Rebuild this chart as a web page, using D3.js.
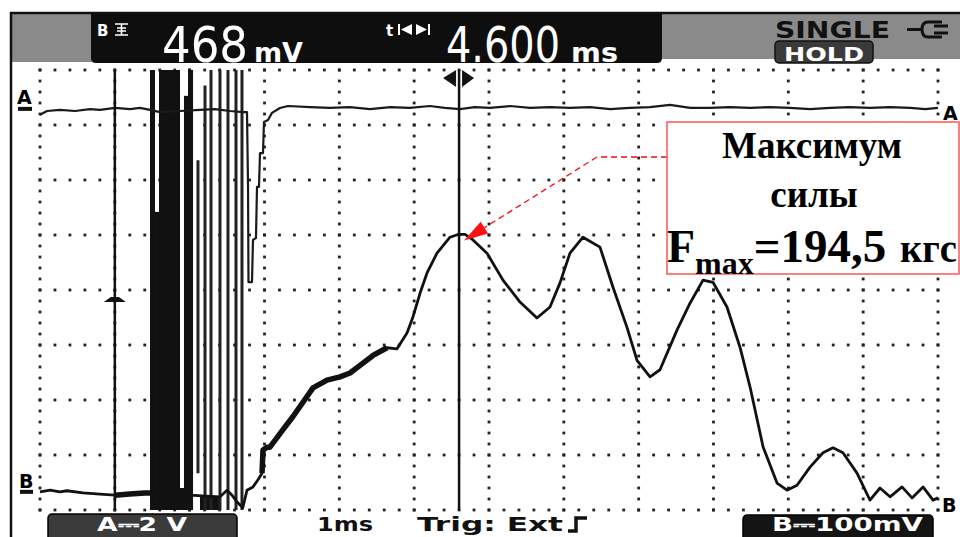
<!DOCTYPE html>
<html><head><meta charset="utf-8">
<script src="https://cdn.jsdelivr.net/npm/d3@7"></script>
<style>html,body{margin:0;padding:0;background:#fff;overflow:hidden}</style>
</head><body>
<svg id="c" width="960" height="537"></svg>
<script>
// ---------------- data ----------------
const timeDomain = [0, 12];          // ms (1 ms/div, 12 div)
const bDomain = [-33, 767];          // mV (100 mV/div, 8 div)
const aDomain = [-14.55, 1.45];      // V  (2 V/div, 8 div)
const cursorTimes = [1.0, 5.6];      // ms
const peakPoint = [5.6, 468];        // ms, mV

const readoutB = "468", unitB = "mV";
const readoutT = "4.600", unitT = "ms";
const modeLabel = "SINGLE", holdLabel = "HOLD";
const scaleALabel = "A⎓2 V", scaleBLabel = "B⎓100mV";
const timebaseLabel = "1ms", trigLabel = "Trig: Ext";
const noteLines = ["Максимум", "силы"];
const fmaxSymbol = "F", fmaxSub = "max", fmaxValue = "=194,5", fmaxUnit = "кгс";

// channel B trace [ms, mV]
const bTrace = [
 [0.00,0],[0.134,3],[0.267,0],[0.36,2],[0.575,-2],[0.80,-4],[1.00,-6],[1.20,-4],[1.40,-2],[1.47,-2],
 [2.405,-9],[2.50,3],[2.566,-6],[2.63,-18],[2.71,-29],[2.766,3],[2.846,9],[2.913,22],[2.967,34],
 [2.98,76],[3.033,81],[3.07,81],[3.247,113],[3.381,137],[3.514,163],[3.648,189],[3.835,203],
 [4.009,209],[4.143,216],[4.316,234],[4.45,248],[4.637,262],[4.771,260],[4.904,289],[4.984,318],
 [5.078,361],[5.172,398],[5.305,434],[5.479,463],[5.586,468],[5.68,468],[5.786,458],[5.973,434],
 [6.187,385],[6.414,345],[6.641,316],[6.815,336],[6.949,380],[7.082,434],[7.256,463],[7.483,445],
 [7.657,372],[7.844,299],[7.978,239],[8.152,209],[8.285,222],[8.512,294],[8.686,343],[8.86,385],
 [8.993,381],[9.18,336],[9.354,263],[9.488,191],[9.662,82],[9.849,16],[9.982,3],[10.116,12],
 [10.29,45],[10.463,71],[10.597,80],[10.73,71],[10.918,34],[11.091,-15],[11.225,7],[11.359,-9],
 [11.519,9],[11.653,-11],[11.80,9],[11.933,-15],[12.0,-11]
];
// thicker (noisy) portions of trace B [ms from, ms to]
const bNoisySpans = [[0.87,1.47],[2.95,4.72]];

// channel A trace [ms, V]
const aTrace = [
 [0,-0.18],[0.094,-0.04],[0.267,0],[0.468,-0.04],[0.668,0.03],[0.802,0],[1.002,0.07],[1.203,0.03],
 [1.336,0.07],[1.47,0],[1.604,-0.08],[1.871,-0.04],[2.138,0],[2.339,0.03],[2.539,-0.04],[2.713,-0.08],
 [2.766,-0.08],[2.78,-2.8],[2.786,-6.26],[2.833,-6.26],[2.846,-4.73],[2.886,-4.66],[2.90,-2.8],
 [2.926,-2.8],[2.94,-1.57],[2.98,-1.57],[2.993,-0.44],[3.047,-0.37],[3.10,-0.11],[3.207,0.07],
 [3.314,0.14],[3.61,0.1],[3.875,0.07],[4.14,0.1],[4.41,0.03],[4.68,0.1],[4.94,0.07],[5.21,0.14],
 [5.41,0.07],[5.61,0.03],[5.81,0.1],[6.01,0.07],[6.28,0.14],[6.55,0.07],[6.815,0.1],[7.08,0.07],
 [7.35,0.1],[7.62,0.03],[7.88,0.07],[8.15,0.1],[8.42,0.18],[8.69,0.07],[8.95,0.07],[9.22,0.1],
 [9.49,0.07],[9.75,0.1],[10.02,0.07],[10.29,0.03],[10.56,0.07],[10.82,0.1],[11.09,0.07],[11.36,0.1],
 [11.63,0.07],[11.83,0.03],[12.0,0.07]
];

// saturated burst: filled blocks [t0 ms, t1 ms, low mV, high mV]
const burstBlocks = [
 [1.470,1.537,-33,767],[1.537,1.590,-33,509],[1.590,1.871,-33,767],[1.871,1.924,-33,7],
 [1.924,1.978,-33,720],[1.978,2.045,-33,767],[2.138,2.405,-33,-9]
];
// burst spikes [t ms, low mV, high mV]
const burstSpikes = [
 [2.111,34,603],[2.205,-33,739],[2.285,-33,767],[2.405,-33,767],[2.512,-33,767],[2.619,-33,767],[2.699,-33,767]
];

// ---------------- drawing ----------------
const svg = d3.select('#c');
const L = 40, R = 938, T = 70, B = 510;
const x = d3.scaleLinear().domain(timeDomain).range([L, R]);
const yB = d3.scaleLinear().domain(bDomain).range([B, T]);
const yA = d3.scaleLinear().domain(aDomain).range([B, T]);

svg.append('rect').attr('width',960).attr('height',537).attr('fill','#fff');

// grid (dotted, 5 dots per division)
const g = svg.append('g').attr('fill','#222');
const majorT = d3.range(timeDomain[0], timeDomain[1] + 0.001, 1);
const majorB = d3.range(bDomain[0], bDomain[1] + 0.001, 100);
const minorT = d3.range(timeDomain[0], timeDomain[1] + 0.001, 0.2);
const minorB = d3.range(bDomain[0], bDomain[1] + 0.001, 20);
const dots = [];
majorB.forEach(v => minorT.forEach(t => dots.push([x(t), yB(v)])));
majorT.forEach(t => minorB.forEach(v => dots.push([x(t), yB(v)])));
g.selectAll('rect').data(dots).join('rect')
 .attr('x', d => d[0]-1.4).attr('y', d => d[1]-1.4).attr('width',2.8).attr('height',2.8);

// burst
svg.append('g').attr('fill','#111').selectAll('rect').data(burstBlocks).join('rect')
 .attr('x', d => x(d[0])).attr('width', d => x(d[1]) - x(d[0]))
 .attr('y', d => yB(d[3])).attr('height', d => yB(d[2]) - yB(d[3]));
svg.append('g').attr('stroke','#222').attr('stroke-width',3).selectAll('line').data(burstSpikes).join('line')
 .attr('x1', d => x(d[0])).attr('x2', d => x(d[0]))
 .attr('y1', d => yB(d[2])).attr('y2', d => yB(d[1]));

// traces
const lineA = d3.line().x(d => x(d[0])).y(d => yA(d[1]));
const lineB = d3.line().x(d => x(d[0])).y(d => yB(d[1]));
svg.append('path').datum(aTrace).attr('d', lineA).attr('fill','none')
 .attr('stroke','#1a1a1a').attr('stroke-width',2.2).attr('stroke-linejoin','round');
svg.append('path').datum(bTrace).attr('d', lineB).attr('fill','none')
 .attr('stroke','#111').attr('stroke-width',2.8).attr('stroke-linejoin','round');
bNoisySpans.forEach(s => {
  svg.append('path').datum(bTrace.filter(d => d[0] >= s[0] && d[0] <= s[1])).attr('d', lineB)
   .attr('fill','none').attr('stroke','#111').attr('stroke-width',5.5).attr('stroke-linejoin','round');
});

// cursors
svg.append('g').selectAll('line').data(cursorTimes).join('line')
 .attr('x1', d => x(d)).attr('x2', d => x(d)).attr('y1', T).attr('y2', B)
 .attr('stroke','#111').attr('stroke-width',2.5);
const c1 = x(cursorTimes[0]), c2 = x(cursorTimes[1]);
svg.append('path').attr('d', `M${c1-11},${302} L${c1+11},${302} L${c1+4},${297} L${c1-4},${297} Z`).attr('fill','#111');
svg.append('path').attr('d', `M${c2-16},78 L${c2-3},70 L${c2-3},87 Z M${c2+15},78 L${c2+3},70 L${c2+3},87 Z`).attr('fill','#111');

// channel markers
const lab = {'font-family':'DejaVu Sans, sans-serif','font-weight':'bold','font-size':19};
function txt(sel, s, ax, ay, attrs) {
  const t = sel.append('text').attr('x',ax).attr('y',ay).text(s);
  Object.entries(attrs||{}).forEach(([k,v]) => t.attr(k,v));
  return t;
}
txt(svg,'A',17,104,lab);
svg.append('rect').attr('x',18).attr('y',yA(0)-3).attr('width',14).attr('height',4).attr('fill','#111');
txt(svg,'B',19,488,lab);
svg.append('rect').attr('x',20).attr('y',yB(0)-2).attr('width',13).attr('height',4).attr('fill','#111');
txt(svg,'A',943,120,lab);
txt(svg,'B',942,512,lab);

// annotation
const peakX = x(peakPoint[0]), peakY = yB(peakPoint[1]);
const tip = [peakX + 5, peakY + 6];
const knee = [597, 157];
const ux = knee[0]-tip[0], uy = knee[1]-tip[1], ul = Math.hypot(ux,uy);
const u = [ux/ul, uy/ul], n = [-u[1], u[0]];
const base = [tip[0]+u[0]*24, tip[1]+u[1]*24];
svg.append('path').attr('d', `M667,${knee[1]} L${knee[0]},${knee[1]} L${base[0]},${base[1]}`)
 .attr('fill','none').attr('stroke','#f01010').attr('stroke-width',1.3).attr('stroke-dasharray','6,4');
svg.append('path').attr('d', `M${tip[0]},${tip[1]} L${base[0]+n[0]*7},${base[1]+n[1]*7} L${base[0]-n[0]*7},${base[1]-n[1]*7} Z`)
 .attr('fill','#ff1010');
svg.append('rect').attr('x',667).attr('y',122).attr('width',292).attr('height',152)
 .attr('fill','#fff').attr('stroke','#ff5555').attr('stroke-width',1.5);
const serif = {'font-family':'Liberation Serif, Times New Roman, serif','font-weight':'bold','fill':'#000'};
txt(svg, noteLines[0], 812, 158, Object.assign({'font-size':37,'text-anchor':'middle'}, serif));
txt(svg, noteLines[1], 814, 207, Object.assign({'font-size':37,'text-anchor':'middle'}, serif));
const f = svg.append('text').attr('x',667).attr('y',262);
Object.entries(serif).forEach(([k,v]) => f.attr(k,v));
f.append('tspan').attr('font-size',46).text(fmaxSymbol);
f.append('tspan').attr('font-size',32).attr('dy',12).text(fmaxSub);
f.append('tspan').attr('font-size',47).attr('dy',-12).text(fmaxValue);
txt(svg, fmaxUnit, 900, 262, Object.assign({'font-size':40, textLength:57, lengthAdjust:'spacingAndGlyphs'}, serif));

// header
svg.append('rect').attr('x',12).attr('y',14).attr('width',80).attr('height',48).attr('fill','#8a8a8a');
svg.append('rect').attr('x',662).attr('y',14).attr('width',298).attr('height',45).attr('fill','#8a8a8a');
svg.append('path').attr('d','M91,14 H662 V58 Q662,63 657,63 H96 Q91,63 91,58 Z').attr('fill','#0e0e0e');
const hw = {'font-family':'DejaVu Sans, sans-serif','font-weight':'bold','fill':'#fff','font-size':15};
txt(svg,'B',97,36,hw);
svg.append('path').attr('d','M115,24 H128 M115,35 H128 M121.5,24 V35 M117,28 H126 M117,31 H126')
 .attr('stroke','#fff').attr('stroke-width',1.6).attr('fill','none');
txt(svg,'t',386,36,hw);
svg.append('path').attr('d','M399,24 V35 M429,24 V35').attr('stroke','#fff').attr('stroke-width',2);
svg.append('path').attr('d','M401,29.5 L412,24 L412,35 Z M427,29.5 L416,24 L416,35 Z').attr('fill','#fff');
const big = {'font-family':'DejaVu Sans Condensed, DejaVu Sans, sans-serif','fill':'#fff','font-size':46,'lengthAdjust':'spacingAndGlyphs'};
txt(svg, readoutB, 0, 0, Object.assign({textLength:86, transform:'translate(162,62) scale(1,1.1)'}, big));
txt(svg, readoutT, 0, 0, Object.assign({textLength:114, transform:'translate(446,62) scale(1,1.1)'}, big));
const unit = {'font-family':'DejaVu Sans, sans-serif','font-weight':'bold','fill':'#fff','font-size':27,'lengthAdjust':'spacingAndGlyphs'};
txt(svg, unitB, 254, 62, Object.assign({textLength:49}, unit));
txt(svg, unitT, 571, 62, Object.assign({textLength:47}, unit));
txt(svg, modeLabel, 775, 38, {'font-family':'DejaVu Sans, sans-serif','font-weight':'bold','fill':'#111','font-size':23,textLength:115,lengthAdjust:'spacingAndGlyphs'});
svg.append('path').attr('d','M907,29.5 H922 M942,22 H928 Q922,22 922,29.5 Q922,37 928,37 H942 M934,26 H948 M934,33 H948')
 .attr('stroke','#111').attr('stroke-width',3).attr('fill','none');
svg.append('rect').attr('x',775).attr('y',41).attr('width',98).attr('height',22).attr('rx',4)
 .attr('fill','#3a3a3a').attr('stroke','#111').attr('stroke-width',1.5);
txt(svg, holdLabel, 784, 61, {'font-family':'DejaVu Sans, sans-serif','font-weight':'bold','fill':'#fff','font-size':20,textLength:80,lengthAdjust:'spacingAndGlyphs'});

// bottom labels
svg.append('rect').attr('x',48).attr('y',514).attr('width',189).attr('height',30).attr('rx',4)
 .attr('fill','#3b3b3b').attr('stroke','#000').attr('stroke-width',1.5);
svg.append('rect').attr('x',743).attr('y',515).attr('width',190).attr('height',30).attr('rx',4)
 .attr('fill','#141414').attr('stroke','#000').attr('stroke-width',1.5);
const bot = {'font-family':'DejaVu Sans, sans-serif','font-weight':'bold','font-size':19,lengthAdjust:'spacingAndGlyphs'};
txt(svg, scaleALabel, 97, 531, Object.assign({fill:'#fff',textLength:90}, bot));
txt(svg, scaleBLabel, 772, 531, Object.assign({fill:'#fff',textLength:151}, bot));
txt(svg, timebaseLabel, 317, 531, Object.assign({fill:'#111',textLength:56}, bot));
txt(svg, trigLabel, 417, 531, Object.assign({fill:'#111',textLength:146}, bot));
svg.append('path').attr('d','M568,531 H576 V518 H587').attr('stroke','#111').attr('stroke-width',3.5).attr('fill','none');

// screen frame
svg.append('path').attr('d','M11,537 V13 H960').attr('stroke','#111').attr('stroke-width',2.5).attr('fill','none');
</script>
</body></html>
